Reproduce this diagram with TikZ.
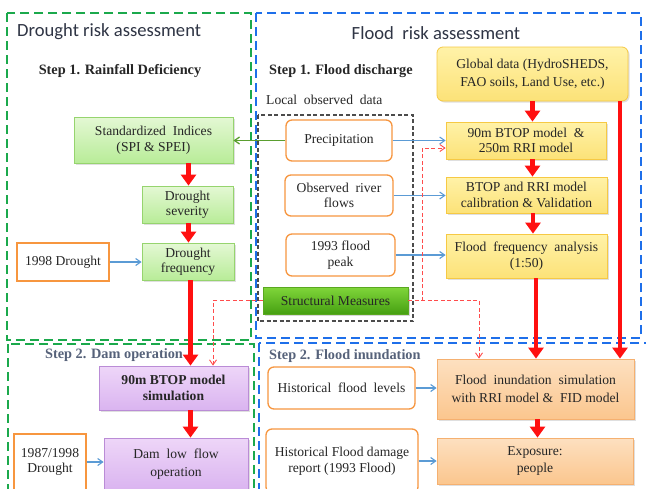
\documentclass[tikz,border=0pt]{standalone}
\usepackage{fontspec}
\setmainfont{Liberation Serif}
\newfontfamily\titlefont{Carlito}
\usetikzlibrary{arrows.meta,shadows}
\definecolor{fgreen}{HTML}{1BA94C}
\definecolor{fblue}{HTML}{1E6FEA}
\definecolor{oborder}{HTML}{F7963F}
\definecolor{bluearr}{HTML}{5B9BD5}
\definecolor{greenarr}{HTML}{5A9E2F}
\definecolor{redarr}{HTML}{FF1010}
\definecolor{titlecol}{HTML}{2F3545}
\definecolor{stepcol}{HTML}{56627A}
\begin{document}
\begin{tikzpicture}[x=1pt,y=-1pt,
  every node/.style={font=\fontsize{13.6}{15.5}\selectfont, align=center, inner sep=1pt, text=black!85},
  hd/.style={font=\fontsize{14.3}{16}\selectfont\bfseries},
  gbox/.style={draw={rgb,255:red,150;green,212;blue,110}, top color={rgb,255:red,228;green,248;blue,212}, bottom color={rgb,255:red,184;green,236;blue,152}, line width=0.8pt, drop shadow={opacity=0.25,shadow xshift=1.5pt,shadow yshift=-1.5pt}},
  ybox/.style={draw={rgb,255:red,246;green,201;blue,68}, top color={rgb,255:red,255;green,242;blue,168}, bottom color={rgb,255:red,252;green,226;blue,120}, line width=0.8pt, drop shadow={opacity=0.25,shadow xshift=1.5pt,shadow yshift=-1.5pt}},
  pbox/.style={draw={rgb,255:red,186;green,140;blue,214}, top color={rgb,255:red,238;green,214;blue,248}, bottom color={rgb,255:red,218;green,180;blue,240}, line width=0.8pt, drop shadow={opacity=0.25,shadow xshift=1.5pt,shadow yshift=-1.5pt}},
  kbox/.style={draw={rgb,255:red,245;green,176;blue,112}, top color={rgb,255:red,253;green,224;blue,192}, bottom color={rgb,255:red,251;green,198;blue,142}, line width=0.8pt, drop shadow={opacity=0.25,shadow xshift=1.5pt,shadow yshift=-1.5pt}},
  sbox/.style={draw={rgb,255:red,90;green,168;blue,32}, top color={rgb,255:red,128;green,214;blue,58}, bottom color={rgb,255:red,70;green,160;blue,18}, line width=0.8pt, drop shadow={opacity=0.3,shadow xshift=1.5pt,shadow yshift=-1.5pt}},
  obox/.style={draw=oborder, fill=white, line width=1.3pt, rounded corners=6pt},
  osq/.style={draw=oborder, fill=white, line width=1.3pt},
  redbig/.style={draw=redarr, line width=4.5pt, -{Triangle[length=11pt,width=15pt]}},
  bluea/.style={draw=bluearr, line width=1.1pt, -{Straight Barb[length=5pt,width=7pt]}},
  greena/.style={draw=greenarr, line width=1.3pt, -{Straight Barb[length=5pt,width=7pt]}},
  rdash/.style={draw=redarr!75, line width=0.9pt, dash pattern=on 4pt off 2.5pt, -{Straight Barb[length=5pt,width=7pt]}},
  frame/.style={line width=2.4pt, dash pattern=on 9pt off 5pt}
]
\useasboundingbox (0,0) rectangle (646,488);
\clip (0,0) rectangle (646,488);
\fill[white] (0,0) rectangle (646,488);

% frames
\draw[frame, draw=fgreen] (7,13) rectangle (251,340);
\draw[frame, draw=fblue] (256,13) rectangle (641,338);
\draw[frame, draw=fgreen] (8,344) rectangle (254,510);
\draw[frame, draw=fblue] (259,343) rectangle (660,510);
\draw[line width=1.1pt, draw=black!70, dash pattern=on 4pt off 2.5pt] (258,115) rectangle (413,321);

% titles
\node[font=\titlefont\fontsize{18.6}{22}\selectfont, text=titlecol, anchor=west] (t1) at (16,32) {Drought risk assessment};
\node[font=\titlefont\fontsize{18.6}{22}\selectfont, text=titlecol] (t2) at (436,33) {Flood\ \ risk assessment};
\node[hd] (s1) at (120,71) {Step 1. Rainfall Deficiency};
\node[hd, anchor=west] (s2) at (268,71) {Step 1. Flood discharge};
\node[anchor=west] (lod) at (265,100) {Local\ \ observed\ \ data};
\node[hd, text=stepcol] (s3) at (114,355) {Step 2. Dam operation};
\node[hd, text=stepcol, anchor=west] (s4) at (268,356) {Step 2. Flood inundation};

% drought boxes
\node[gbox, minimum width=159, minimum height=46] (si) at (153.5,140) {Standardized\ \ Indices\\(SPI \& SPEI)};
\node[gbox, minimum width=91, minimum height=37] (dsev) at (187.5,204.5) {Drought\\severity};
\node[gbox, minimum width=92, minimum height=37] (dfreq) at (188,261.5) {Drought\\frequency};
\node[osq, minimum width=92, minimum height=38] (d98) at (63,262) {1998 Drought};
\node[pbox, minimum width=149, minimum height=44, font=\fontsize{13.6}{16}\selectfont\bfseries] (bsim) at (173.5,388) {90m BTOP model\\simulation};
\node[pbox, minimum width=144, minimum height=52] (dlf) at (176,464) {Dam\ \ low\ \ flow\\[2pt]operation};
\node[osq, minimum width=72, minimum height=56] (d87) at (50,462) {1987/1998\\Drought};

% local observed
\node[obox, minimum width=106, minimum height=41] (pr) at (339,140.5) {Precipitation};
\node[obox, minimum width=108, minimum height=41] (orf) at (339,195.5) {Observed\ \ river\\flows};
\node[obox, minimum width=109, minimum height=42] (fp) at (340.5,255) {1993 flood\\peak};
\node[sbox, minimum width=145, minimum height=27] (sm) at (335.5,300.5) {Structural Measures};

% flood boxes
\node[ybox, rounded corners=6pt, minimum width=191, minimum height=54] (glob) at (532.5,74) {Global data (HydroSHEDS,\\[2pt]FAO soils, Land Use, etc.)};
\node[ybox, minimum width=160, minimum height=37] (btop) at (526,140.5) {90m BTOP model\ \ \&\\250m RRI model};
\node[ybox, minimum width=161, minimum height=36] (cal) at (526.5,195) {BTOP and RRI model\\calibration \& Validation};
\node[ybox, minimum width=161, minimum height=44] (ffa) at (526.5,256) {Flood\ \ frequency\ \ analysis\\(1:50)};
\node[obox, minimum width=147, minimum height=42] (hfl) at (341.5,388) {Historical\ \ flood\ \ levels};
\node[obox, minimum width=152, minimum height=64] (hfd) at (342,461) {Historical Flood damage\\report (1993 Flood)};
\node[kbox, minimum width=197, minimum height=60] (fis) at (535.5,389) {Flood\ \ inundation\ \ simulation\\[2pt]with RRI model \&\ \ FID model};
\node[kbox, minimum width=196, minimum height=46] (exp) at (535,461) {Exposure:\\[2pt]people};

% red thick arrows
\draw[redbig] (glob.south) -- (glob.south |- btop.north);
\draw[redbig] ([xshift=6.5pt]btop.south) -- ([xshift=6.5pt]btop.south |- cal.north);
\draw[redbig] ([xshift=6.5pt]cal.south) -- ([xshift=6.5pt]cal.south |- ffa.north);
\draw[redbig] ([xshift=9.5pt]ffa.south) -- ([xshift=9.5pt]ffa.south |- fis.north);
\draw[redbig] ([xshift=87.5pt]glob.south) -- ([xshift=87.5pt]glob.south |- fis.north);
\draw[redbig] ([xshift=2pt]fis.south) -- ([xshift=2pt]fis.south |- exp.north);
\draw[redbig] ([xshift=35pt]si.south) -- ([xshift=35pt]si.south |- dsev.north);
\draw[redbig] ([xshift=1pt]dsev.south) -- ([xshift=1pt]dsev.south |- dfreq.north);
\draw[redbig] ([xshift=2.5pt]dfreq.south) -- ([xshift=2.5pt]dfreq.south |- bsim.north);
\draw[redbig] ([xshift=17pt]bsim.south) -- ([xshift=17pt]bsim.south |- dlf.north);

% blue arrows
\draw[bluea] (pr.east) -- (pr.east -| btop.west);
\draw[bluea] (orf.east) -- (orf.east -| cal.west);
\draw[bluea] (fp.east) -- (fp.east -| ffa.west);
\draw[bluea] (d98.east) -- (d98.east -| dfreq.west);
\draw[bluea] (d87.east) -- (d87.east -| dlf.west);
\draw[bluea] (hfl.east) -- (hfl.east -| fis.west);
\draw[bluea] (hfd.east) -- (hfd.east -| exp.west);

% green arrow
\draw[greena] (pr.west) -- (pr.west -| si.east);

% red dashed arrows
\coordinate (j) at (422,300.5);
\draw[rdash] (sm.west) -| ([xshift=39.5pt]bsim.north);
\draw[rdash] (sm.east) -| ([xshift=-56.5pt]fis.north);
\draw[rdash] (sm.east) -- (j) |- ([yshift=-7.5pt]btop.west);
\end{tikzpicture}
\end{document}
